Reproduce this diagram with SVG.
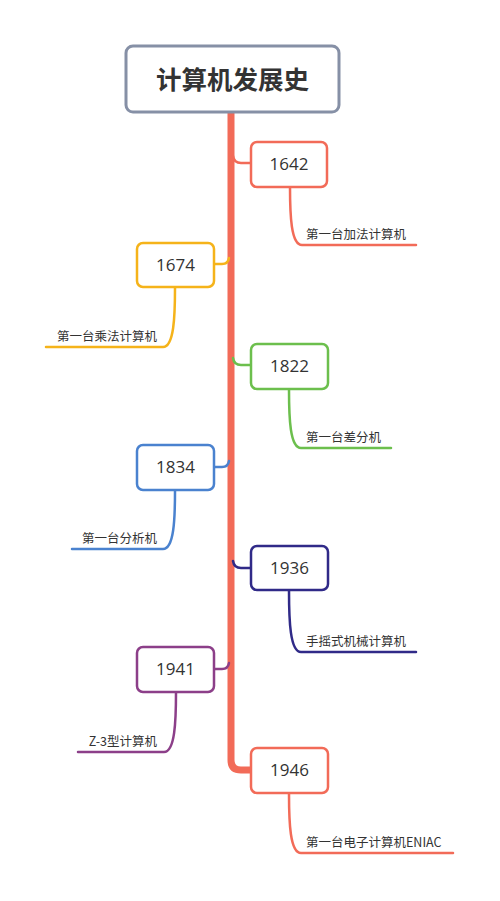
<svg xmlns="http://www.w3.org/2000/svg" width="500" height="901" viewBox="0 0 500 901">
<style>
.box{fill:#fff;stroke-width:2.5}
.num{font-family:"Open Sans","Noto Sans CJK SC",sans-serif;font-size:17px;fill:#333;text-anchor:middle}
.lbl{font-family:"Noto Sans CJK SC","Open Sans",sans-serif;font-size:12.5px;fill:#333}
.ln{fill:none;stroke-width:2.5;stroke-linecap:round;stroke-linejoin:round}
.l{text-anchor:end}
</style>
<rect width="500" height="901" fill="#fff"/>
<g id="connectors">
<path d="M231,112 L231,760 Q231,770 241,770 L252,770" fill="none" stroke="#f26b58" stroke-width="7"/>
<path class="ln" stroke="#f26b58" d="M233,156 Q234,163 241,163 L251,163"/>
<path class="ln" stroke="#f5b31a" d="M214,264 L222,264 Q228,264 229,258"/>
<path class="ln" stroke="#6cbf4d" d="M233,358 Q234,365 241,365 L251,365"/>
<path class="ln" stroke="#4a82cf" d="M214,467 L222,467 Q228,467 229,461"/>
<path class="ln" stroke="#302a88" d="M233,561 Q234,568 241,568 L251,568"/>
<path class="ln" stroke="#8c3f89" d="M214,669 L222,669 Q228,669 229,663"/>
<path class="ln" stroke="#f26b58" d="M290,187 C290,215 291,245 302,245 L416,245"/>
<path class="ln" stroke="#f5b31a" d="M175,288 C175,316 174,347 163,347 L46,347"/>
<path class="ln" stroke="#6cbf4d" d="M289,390 C289,418 290,448 301,448 L391,448"/>
<path class="ln" stroke="#4a82cf" d="M175,491 C175,519 174,549 163,549 L72,549"/>
<path class="ln" stroke="#302a88" d="M289,591 C289,620 290,652 301,652 L416,652"/>
<path class="ln" stroke="#8c3f89" d="M176,692 C176,721 175,752 164,752 L78,752"/>
<path class="ln" stroke="#f26b58" d="M289,794 C289,822 290,853 301,853 L453,853"/>
</g>
<g id="title">
<rect x="126" y="46" width="213" height="66" rx="7" fill="#fff" stroke="#8690a6" stroke-width="3"/>
<text x="232.5" y="89" font-family="Noto Sans CJK SC,sans-serif" font-size="25.5" font-weight="bold" fill="#333" text-anchor="middle">计算机发展史</text>
</g>
<g id="n1642">
<rect class="box" x="251" y="142" width="76" height="45" rx="6" stroke="#f26b58"/>
<text class="num" x="289" y="170">1642</text>
<text class="lbl" x="306" y="239">第一台加法计算机</text>
</g>
<g id="n1674">
<rect class="box" x="137" y="243" width="77" height="44" rx="6" stroke="#f5b31a"/>
<text class="num" x="175.5" y="271">1674</text>
<text class="lbl l" x="157" y="341">第一台乘法计算机</text>
</g>
<g id="n1822">
<rect class="box" x="251" y="344" width="77" height="45" rx="6" stroke="#6cbf4d"/>
<text class="num" x="289.5" y="372">1822</text>
<text class="lbl" x="306" y="442">第一台差分机</text>
</g>
<g id="n1834">
<rect class="box" x="137" y="445" width="77" height="45" rx="6" stroke="#4a82cf"/>
<text class="num" x="175.5" y="473">1834</text>
<text class="lbl l" x="157" y="543">第一台分析机</text>
</g>
<g id="n1936">
<rect class="box" x="251" y="546" width="77" height="44" rx="6" stroke="#302a88"/>
<text class="num" x="289.5" y="574">1936</text>
<text class="lbl" x="306" y="646">手摇式机械计算机</text>
</g>
<g id="n1941">
<rect class="box" x="137" y="647" width="77" height="45" rx="6" stroke="#8c3f89"/>
<text class="num" x="175.5" y="675">1941</text>
<text class="lbl l" x="157" y="746">Z-3型计算机</text>
</g>
<g id="n1946">
<rect class="box" x="251" y="748" width="77" height="45" rx="6" stroke="#f26b58"/>
<text class="num" x="289.5" y="776">1946</text>
<text class="lbl" x="306" y="847">第一台电子计算机ENIAC</text>
</g>
</svg>
